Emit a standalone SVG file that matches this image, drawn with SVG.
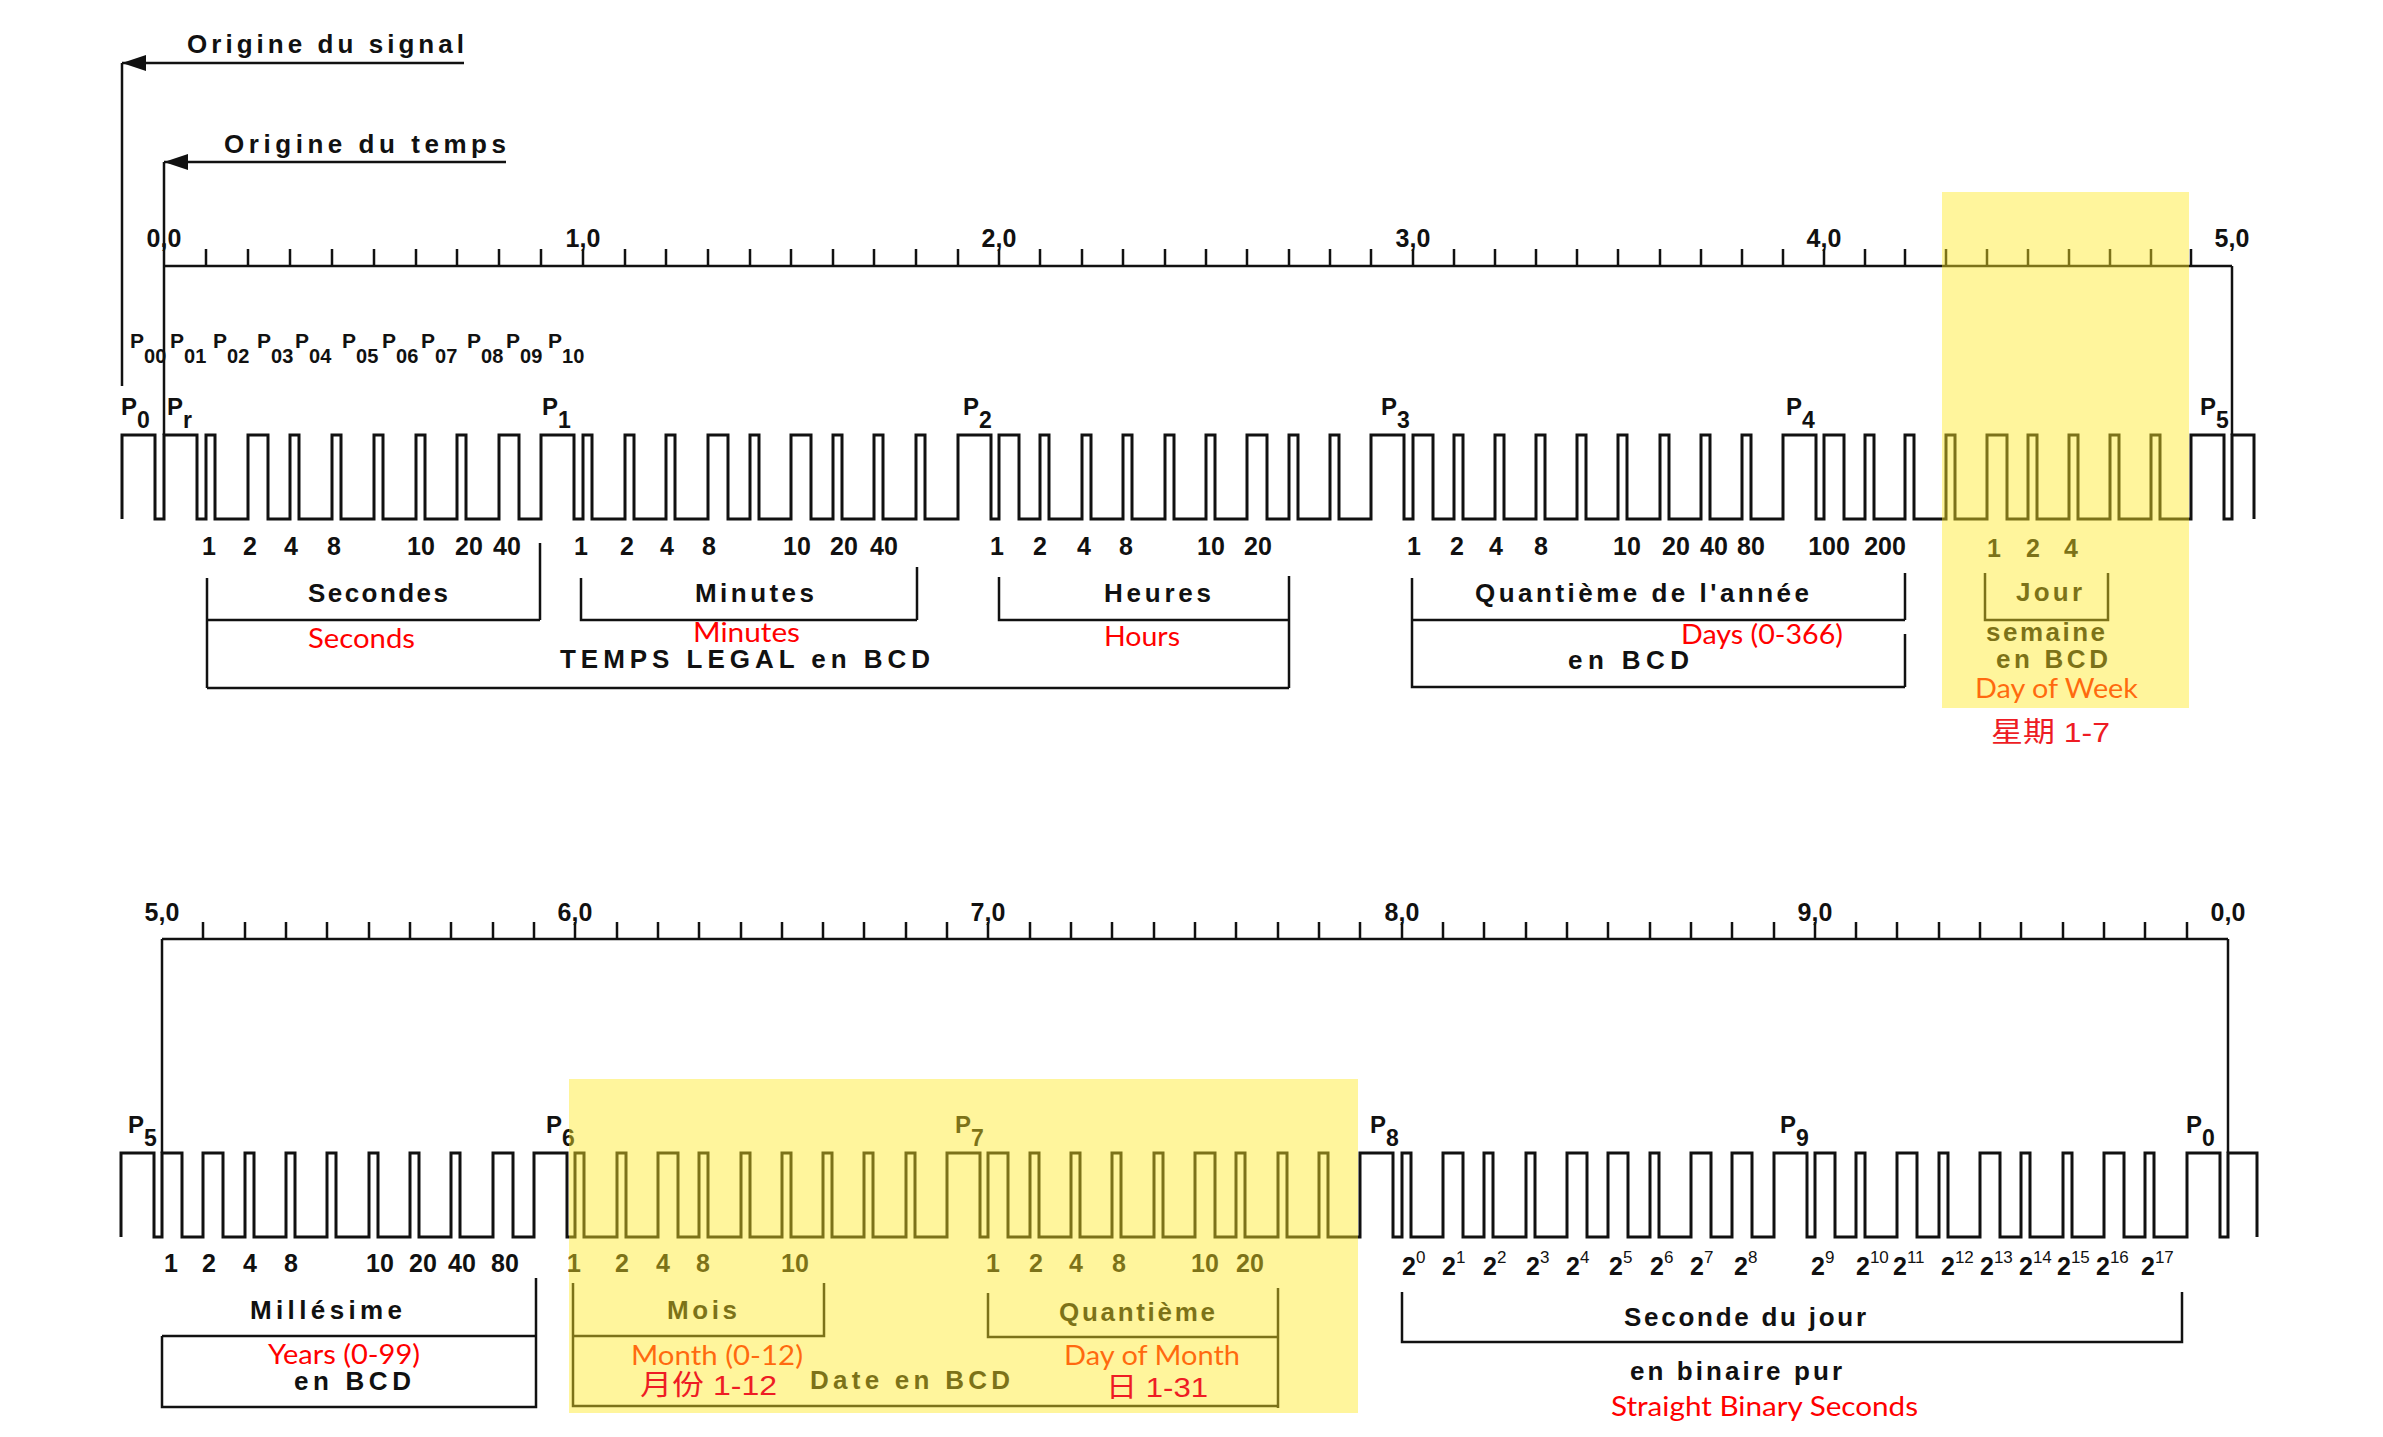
<svg xmlns="http://www.w3.org/2000/svg" width="2383" height="1437" viewBox="0 0 2383 1437">
<style>
.lbl{font-family:"Liberation Sans",Arial,sans-serif;font-weight:bold;font-size:26px;fill:#111}
.ax{font-family:"Liberation Sans",Arial,sans-serif;font-weight:bold;font-size:25px;fill:#111;text-anchor:middle}
.num{font-family:"Liberation Sans",Arial,sans-serif;font-weight:bold;font-size:25px;fill:#111;text-anchor:middle}
.pw{font-family:"Liberation Sans",Arial,sans-serif;font-weight:bold;font-size:25px;fill:#111}
.pm{font-family:"Liberation Sans",Arial,sans-serif;font-weight:bold;font-size:24px;fill:#111}
.p0{font-family:"Liberation Sans",Arial,sans-serif;font-weight:bold;font-size:21px;fill:#111}
.red{font-family:Lato,"Open Sans",sans-serif;font-size:27px;fill:#ff0000}
.cjk{font-family:"Liberation Sans","Noto Sans CJK SC",sans-serif;font-size:28px;fill:#ee1c24}
.ln{stroke:#111;stroke-width:2.5;fill:none}
.wave{stroke:#111;stroke-width:3;fill:none;stroke-linejoin:miter}
.hl{fill:#ffe924;opacity:0.45}
</style>
<defs>
<marker id="arr" viewBox="0 0 24 16" refX="24" refY="8" markerWidth="24" markerHeight="16" markerUnits="userSpaceOnUse" orient="auto">
<path d="M0,0 L24,8 L0,16 z" fill="#111"/>
</marker>
</defs>
<rect x="0" y="0" width="2383" height="1437" fill="#fff"/>

<g id="connectors">
<line class="ln" x1="464" y1="63" x2="122" y2="63" marker-end="url(#arr)"/>
<line class="ln" x1="506" y1="162" x2="164" y2="162" marker-end="url(#arr)"/>
<line class="ln" x1="122" y1="63" x2="122" y2="386"/>
<line class="ln" x1="164" y1="162" x2="164" y2="435"/>
</g>

<g id="origins">
<text class="lbl" x="187" y="53" font-size="28" textLength="277" lengthAdjust="spacing">Origine du signal</text>
<text class="lbl" x="224" y="153" font-size="28" textLength="282" lengthAdjust="spacing">Origine du temps</text>
</g>

<g id="axis-top">
<line class="ln" x1="164" y1="266" x2="2232" y2="266"/>
<line class="ln" x1="2232" y1="266" x2="2232" y2="435"/>
<path class="ln" d="M206,266V249 M248,266V249 M290,266V249 M332,266V249 M374,266V249 M416,266V249 M457,266V249 M499,266V249 M541,266V249 M583,266V249 M625,266V249 M666,266V249 M708,266V249 M750,266V249 M791,266V249 M833,266V249 M874,266V249 M916,266V249 M958,266V249 M999,266V249 M1040,266V249 M1082,266V249 M1123,266V249 M1165,266V249 M1206,266V249 M1247,266V249 M1289,266V249 M1330,266V249 M1371,266V249 M1413,266V249 M1454,266V249 M1495,266V249 M1536,266V249 M1577,266V249 M1618,266V249 M1660,266V249 M1701,266V249 M1742,266V249 M1783,266V249 M1824,266V249 M1865,266V249 M1905,266V249 M1946,266V249 M1987,266V249 M2028,266V249 M2069,266V249 M2110,266V249 M2151,266V249 M2191,266V249"/>
<text class="ax" x="164" y="247">0,0</text>
<text class="ax" x="583" y="247">1,0</text>
<text class="ax" x="999" y="247">2,0</text>
<text class="ax" x="1413" y="247">3,0</text>
<text class="ax" x="1824" y="247">4,0</text>
<text class="ax" x="2232" y="247">5,0</text>
</g>

<g id="p-sub-labels">
<text class="p0" x="130" y="348">P<tspan dy="15" font-size="20">00</tspan></text>
<text class="p0" x="170" y="348">P<tspan dy="15" font-size="20">01</tspan></text>
<text class="p0" x="213" y="348">P<tspan dy="15" font-size="20">02</tspan></text>
<text class="p0" x="257" y="348">P<tspan dy="15" font-size="20">03</tspan></text>
<text class="p0" x="295" y="348">P<tspan dy="15" font-size="20">04</tspan></text>
<text class="p0" x="342" y="348">P<tspan dy="15" font-size="20">05</tspan></text>
<text class="p0" x="382" y="348">P<tspan dy="15" font-size="20">06</tspan></text>
<text class="p0" x="421" y="348">P<tspan dy="15" font-size="20">07</tspan></text>
<text class="p0" x="467" y="348">P<tspan dy="15" font-size="20">08</tspan></text>
<text class="p0" x="506" y="348">P<tspan dy="15" font-size="20">09</tspan></text>
<text class="p0" x="548" y="348">P<tspan dy="15" font-size="20">10</tspan></text>
</g>

<g id="markers-top">
<text class="pm" x="121" y="415">P<tspan dy="13" font-size="23">0</tspan></text>
<text class="pm" x="167" y="415">P<tspan dy="13" font-size="23">r</tspan></text>
<text class="pm" x="542" y="415">P<tspan dy="13" font-size="23">1</tspan></text>
<text class="pm" x="963" y="415">P<tspan dy="13" font-size="23">2</tspan></text>
<text class="pm" x="1381" y="415">P<tspan dy="13" font-size="23">3</tspan></text>
<text class="pm" x="1786" y="415">P<tspan dy="13" font-size="23">4</tspan></text>
<text class="pm" x="2200" y="415">P<tspan dy="13" font-size="23">5</tspan></text>
</g>

<g id="wave-top">
<path class="wave" d="M122,519 V435 H155 V519 H164 V435 H197 V519 H206 V435 H215 V519 H248 V435 H268 V519 H290 V435 H299 V519 H332 V435 H341 V519 H374 V435 H383 V519 H416 V435 H425 V519 H457 V435 H466 V519 H499 V435 H519 V519 H541 V435 H574 V519 H583 V435 H592 V519 H625 V435 H634 V519 H666 V435 H675 V519 H708 V435 H728 V519 H750 V435 H759 V519 H791 V435 H811 V519 H833 V435 H842 V519 H874 V435 H883 V519 H916 V435 H925 V519 H958 V435 H991 V519 H999 V435 H1019 V519 H1040 V435 H1049 V519 H1082 V435 H1091 V519 H1123 V435 H1132 V519 H1165 V435 H1174 V519 H1206 V435 H1215 V519 H1247 V435 H1267 V519 H1289 V435 H1298 V519 H1330 V435 H1339 V519 H1371 V435 H1404 V519 H1413 V435 H1433 V519 H1454 V435 H1463 V519 H1495 V435 H1504 V519 H1536 V435 H1545 V519 H1577 V435 H1586 V519 H1618 V435 H1627 V519 H1660 V435 H1669 V519 H1701 V435 H1710 V519 H1742 V435 H1751 V519 H1783 V435 H1816 V519 H1824 V435 H1844 V519 H1865 V435 H1874 V519 H1905 V435 H1914 V519 H1946 V435 H1955 V519 H1987 V435 H2007 V519 H2028 V435 H2037 V519 H2069 V435 H2078 V519 H2110 V435 H2119 V519 H2151 V435 H2160 V519 H2191 V435 H2224 V519 H2232 V435 H2254 V519"/>
</g>

<g id="seconds">
<text class="num" x="209" y="555">1</text><text class="num" x="250" y="555">2</text><text class="num" x="291" y="555">4</text><text class="num" x="334" y="555">8</text>
<text class="num" x="421" y="555">10</text><text class="num" x="469" y="555">20</text><text class="num" x="507" y="555">40</text>
<path class="ln" d="M207,578 V688 M207,620 H540 M540,543 V620"/>
<text class="lbl" x="308" y="602" textLength="140" lengthAdjust="spacing">Secondes</text>
<text class="red" x="308" y="648" textLength="107" lengthAdjust="spacingAndGlyphs">Seconds</text>
</g>

<g id="minutes">
<text class="num" x="581" y="555">1</text><text class="num" x="627" y="555">2</text><text class="num" x="667" y="555">4</text><text class="num" x="709" y="555">8</text>
<text class="num" x="797" y="555">10</text><text class="num" x="844" y="555">20</text><text class="num" x="884" y="555">40</text>
<path class="ln" d="M581,578 V620 H917 M917,567 V620"/>
<text class="lbl" x="695" y="602" textLength="119" lengthAdjust="spacing">Minutes</text>
<text class="red" x="693" y="642" textLength="107" lengthAdjust="spacingAndGlyphs">Minutes</text>
</g>

<g id="hours">
<text class="num" x="997" y="555">1</text><text class="num" x="1040" y="555">2</text><text class="num" x="1084" y="555">4</text><text class="num" x="1126" y="555">8</text>
<text class="num" x="1211" y="555">10</text><text class="num" x="1258" y="555">20</text>
<path class="ln" d="M999,577 V620 H1289 M1289,576 V688 M207,688 H1289"/>
<text class="lbl" x="1104" y="602" textLength="107" lengthAdjust="spacing">Heures</text>
<text class="red" x="1104" y="646" textLength="76" lengthAdjust="spacingAndGlyphs">Hours</text>
<text class="lbl" x="560" y="668" textLength="370" lengthAdjust="spacing">TEMPS LEGAL en BCD</text>
</g>

<g id="day-of-year">
<text class="num" x="1414" y="555">1</text><text class="num" x="1457" y="555">2</text><text class="num" x="1496" y="555">4</text><text class="num" x="1541" y="555">8</text>
<text class="num" x="1627" y="555">10</text><text class="num" x="1676" y="555">20</text><text class="num" x="1714" y="555">40</text><text class="num" x="1751" y="555">80</text>
<text class="num" x="1829" y="555">100</text><text class="num" x="1885" y="555">200</text>
<path class="ln" d="M1412,578 V687 H1905 M1412,620 H1905 M1905,573 V620 M1905,634 V687"/>
<text class="lbl" x="1475" y="602" textLength="334" lengthAdjust="spacing">Quantième de l'année</text>
<text class="red" x="1681" y="644" textLength="162" lengthAdjust="spacingAndGlyphs">Days (0-366)</text>
<text class="lbl" x="1568" y="669" textLength="121" lengthAdjust="spacing">en BCD</text>
</g>

<g id="day-of-week">
<text class="num" x="1994" y="557">1</text><text class="num" x="2033" y="557">2</text><text class="num" x="2071" y="557">4</text>
<path class="ln" d="M1985,573 V620 H2108 V573"/>
<text class="lbl" x="2016" y="601" textLength="66" lengthAdjust="spacing">Jour</text>
<text class="lbl" x="1986" y="641" textLength="119" lengthAdjust="spacing">semaine</text>
<text class="lbl" x="1996" y="668" textLength="112" lengthAdjust="spacing">en BCD</text>
<text class="red" x="1975" y="698" font-size="26" textLength="163" lengthAdjust="spacingAndGlyphs">Day of Week</text>
</g>

<g id="axis-bottom">
<line class="ln" x1="162" y1="939" x2="2228" y2="939"/>
<line class="ln" x1="162" y1="939" x2="162" y2="1153"/>
<line class="ln" x1="2228" y1="939" x2="2228" y2="1153"/>
<path class="ln" d="M203,939V922 M245,939V922 M286,939V922 M327,939V922 M369,939V922 M410,939V922 M451,939V922 M493,939V922 M534,939V922 M575,939V922 M617,939V922 M658,939V922 M699,939V922 M741,939V922 M782,939V922 M823,939V922 M864,939V922 M906,939V922 M947,939V922 M988,939V922 M1030,939V922 M1071,939V922 M1112,939V922 M1154,939V922 M1195,939V922 M1236,939V922 M1278,939V922 M1319,939V922 M1360,939V922 M1402,939V922 M1443,939V922 M1484,939V922 M1526,939V922 M1567,939V922 M1608,939V922 M1650,939V922 M1691,939V922 M1732,939V922 M1774,939V922 M1815,939V922 M1856,939V922 M1897,939V922 M1939,939V922 M1980,939V922 M2021,939V922 M2063,939V922 M2104,939V922 M2145,939V922 M2187,939V922"/>
<text class="ax" x="162" y="921">5,0</text>
<text class="ax" x="575" y="921">6,0</text>
<text class="ax" x="988" y="921">7,0</text>
<text class="ax" x="1402" y="921">8,0</text>
<text class="ax" x="1815" y="921">9,0</text>
<text class="ax" x="2228" y="921">0,0</text>
</g>

<g id="markers-bottom">
<text class="pm" x="128" y="1133">P<tspan dy="13" font-size="23">5</tspan></text>
<text class="pm" x="546" y="1133">P<tspan dy="13" font-size="23">6</tspan></text>
<text class="pm" x="955" y="1133">P<tspan dy="13" font-size="23">7</tspan></text>
<text class="pm" x="1370" y="1133">P<tspan dy="13" font-size="23">8</tspan></text>
<text class="pm" x="1780" y="1133">P<tspan dy="13" font-size="23">9</tspan></text>
<text class="pm" x="2186" y="1133">P<tspan dy="13" font-size="23">0</tspan></text>
</g>

<g id="wave-bottom">
<path class="wave" d="M121,1237 V1153 H154 V1237 H162 V1153 H182 V1237 H203 V1153 H223 V1237 H245 V1153 H254 V1237 H286 V1153 H295 V1237 H327 V1153 H336 V1237 H369 V1153 H378 V1237 H410 V1153 H419 V1237 H451 V1153 H460 V1237 H493 V1153 H513 V1237 H534 V1153 H567 V1237 H575 V1153 H584 V1237 H617 V1153 H626 V1237 H658 V1153 H678 V1237 H699 V1153 H708 V1237 H741 V1153 H750 V1237 H782 V1153 H791 V1237 H823 V1153 H832 V1237 H864 V1153 H873 V1237 H906 V1153 H915 V1237 H947 V1153 H980 V1237 H988 V1153 H1008 V1237 H1030 V1153 H1039 V1237 H1071 V1153 H1080 V1237 H1112 V1153 H1121 V1237 H1154 V1153 H1163 V1237 H1195 V1153 H1215 V1237 H1236 V1153 H1245 V1237 H1278 V1153 H1287 V1237 H1319 V1153 H1328 V1237 H1360 V1153 H1393 V1237 H1402 V1153 H1411 V1237 H1443 V1153 H1463 V1237 H1484 V1153 H1493 V1237 H1526 V1153 H1535 V1237 H1567 V1153 H1587 V1237 H1608 V1153 H1628 V1237 H1650 V1153 H1659 V1237 H1691 V1153 H1711 V1237 H1732 V1153 H1752 V1237 H1774 V1153 H1807 V1237 H1815 V1153 H1835 V1237 H1856 V1153 H1865 V1237 H1897 V1153 H1917 V1237 H1939 V1153 H1948 V1237 H1980 V1153 H2000 V1237 H2021 V1153 H2030 V1237 H2063 V1153 H2072 V1237 H2104 V1153 H2124 V1237 H2145 V1153 H2154 V1237 H2187 V1153 H2220 V1237 H2228 V1153 H2257 V1237"/>
</g>

<g id="years">
<text class="num" x="171" y="1272">1</text><text class="num" x="209" y="1272">2</text><text class="num" x="250" y="1272">4</text><text class="num" x="291" y="1272">8</text>
<text class="num" x="380" y="1272">10</text><text class="num" x="423" y="1272">20</text><text class="num" x="462" y="1272">40</text><text class="num" x="505" y="1272">80</text>
<path class="ln" d="M162,1336 H536 M536,1278 V1407 H162 V1336"/>
<text class="lbl" x="250" y="1319" textLength="152" lengthAdjust="spacing">Millésime</text>
<text class="red" x="268" y="1364" textLength="152" lengthAdjust="spacingAndGlyphs">Years (0-99)</text>
<text class="lbl" x="294" y="1390" textLength="117" lengthAdjust="spacing">en BCD</text>
</g>

<g id="month">
<text class="num" x="574" y="1272">1</text><text class="num" x="622" y="1272">2</text><text class="num" x="663" y="1272">4</text><text class="num" x="703" y="1272">8</text>
<text class="num" x="795" y="1272">10</text>
<path class="ln" d="M573,1283 V1406 H1278 M573,1336 H824 V1283"/>
<text class="lbl" x="667" y="1319" textLength="70" lengthAdjust="spacing">Mois</text>
<text class="red" x="631" y="1365" textLength="172" lengthAdjust="spacingAndGlyphs">Month (0-12)</text>
<text class="lbl" x="810" y="1389" textLength="200" lengthAdjust="spacing">Date en BCD</text>
</g>

<g id="day-of-month">
<text class="num" x="993" y="1272">1</text><text class="num" x="1036" y="1272">2</text><text class="num" x="1076" y="1272">4</text><text class="num" x="1119" y="1272">8</text>
<text class="num" x="1205" y="1272">10</text><text class="num" x="1250" y="1272">20</text>
<path class="ln" d="M988,1293 V1337 H1278 M1278,1288 V1408"/>
<text class="lbl" x="1059" y="1321" textLength="156" lengthAdjust="spacing">Quantième</text>
<text class="red" x="1064" y="1365" textLength="176" lengthAdjust="spacingAndGlyphs">Day of Month</text>
</g>

<g id="highlights">
<rect class="hl" x="1942" y="192" width="247" height="516"/>
<rect class="hl" x="569" y="1079" width="789" height="334"/>
</g>

<g id="cjk-notes">
<text class="cjk" x="1991" y="742" textLength="119" lengthAdjust="spacingAndGlyphs">星期 1-7</text>
<text class="cjk" x="640" y="1395" textLength="137" lengthAdjust="spacingAndGlyphs">月份 1-12</text>
<text class="cjk" x="1106" y="1397" textLength="102" lengthAdjust="spacingAndGlyphs">日 1-31</text>
</g>

<g id="second-of-day">
<text class="pw" x="1402" y="1275">2<tspan dy="-12" font-size="17" font-weight="normal">0</tspan></text>
<text class="pw" x="1442" y="1275">2<tspan dy="-12" font-size="17" font-weight="normal">1</tspan></text>
<text class="pw" x="1483" y="1275">2<tspan dy="-12" font-size="17" font-weight="normal">2</tspan></text>
<text class="pw" x="1526" y="1275">2<tspan dy="-12" font-size="17" font-weight="normal">3</tspan></text>
<text class="pw" x="1566" y="1275">2<tspan dy="-12" font-size="17" font-weight="normal">4</tspan></text>
<text class="pw" x="1609" y="1275">2<tspan dy="-12" font-size="17" font-weight="normal">5</tspan></text>
<text class="pw" x="1650" y="1275">2<tspan dy="-12" font-size="17" font-weight="normal">6</tspan></text>
<text class="pw" x="1690" y="1275">2<tspan dy="-12" font-size="17" font-weight="normal">7</tspan></text>
<text class="pw" x="1734" y="1275">2<tspan dy="-12" font-size="17" font-weight="normal">8</tspan></text>
<text class="pw" x="1811" y="1275">2<tspan dy="-12" font-size="17" font-weight="normal">9</tspan></text>
<text class="pw" x="1856" y="1275">2<tspan dy="-12" font-size="17" font-weight="normal">10</tspan></text>
<text class="pw" x="1893" y="1275">2<tspan dy="-12" font-size="17" font-weight="normal">11</tspan></text>
<text class="pw" x="1941" y="1275">2<tspan dy="-12" font-size="17" font-weight="normal">12</tspan></text>
<text class="pw" x="1980" y="1275">2<tspan dy="-12" font-size="17" font-weight="normal">13</tspan></text>
<text class="pw" x="2019" y="1275">2<tspan dy="-12" font-size="17" font-weight="normal">14</tspan></text>
<text class="pw" x="2057" y="1275">2<tspan dy="-12" font-size="17" font-weight="normal">15</tspan></text>
<text class="pw" x="2096" y="1275">2<tspan dy="-12" font-size="17" font-weight="normal">16</tspan></text>
<text class="pw" x="2141" y="1275">2<tspan dy="-12" font-size="17" font-weight="normal">17</tspan></text>
<path class="ln" d="M1402,1292 V1342 H2182 V1292"/>
<text class="lbl" x="1624" y="1326" textLength="242" lengthAdjust="spacing">Seconde du jour</text>
<text class="lbl" x="1630" y="1380" textLength="212" lengthAdjust="spacing">en binaire pur</text>
<text class="red" x="1611" y="1416" textLength="307" lengthAdjust="spacingAndGlyphs">Straight Binary Seconds</text>
</g>
</svg>
